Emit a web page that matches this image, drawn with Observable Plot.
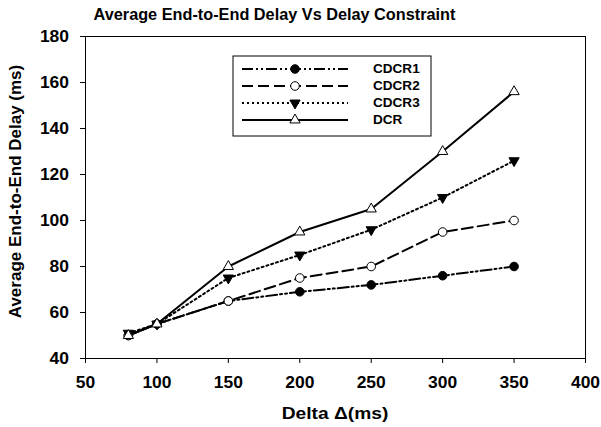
<!DOCTYPE html>
<html>
<head>
<meta charset="utf-8">
<script src="https://cdn.jsdelivr.net/npm/d3@7"></script>
<script src="https://cdn.jsdelivr.net/npm/@observablehq/plot@0.6"></script>
<style>
  html, body { margin: 0; padding: 0; background: #fff; }
  svg text { font-family: "Liberation Sans", Arial, sans-serif; font-weight: bold; }
</style>
</head>
<body>
<div id="chart"></div>
<script>
const deltas = [80, 100, 150, 200, 250, 300, 350];
const cdcr1 = [50, 55, 65, 69, 72, 76, 80];
const cdcr2 = [50, 55, 65, 75, 80, 95, 100];
const cdcr3 = [51, 55, 75, 85, 96, 110, 126];
const dcr   = [50, 55, 80, 95, 105, 130, 156];
const seriesNames = ["CDCR1", "CDCR2", "CDCR3", "DCR"];
const xTicks = [50, 100, 150, 200, 250, 300, 350, 400];
const yTicks = [40, 60, 80, 100, 120, 140, 160, 180];
const title = "Average End-to-End Delay Vs Delay Constraint";
const xLabel = "Delta \u0394(ms)";
const yLabel = "Average End-to-End Delay (ms)";

const values = [cdcr1, cdcr2, cdcr3, dcr];
const rows = [];
seriesNames.forEach((s, i) => deltas.forEach((d, j) => rows.push({series: s, delta: d, delay: values[i][j]})));

const triDown = {
  draw(ctx, size) {
    const s = Math.sqrt(size / (Math.sqrt(3) / 4));
    const h = s * Math.sqrt(3) / 2;
    ctx.moveTo(-s / 2, -h / 3);
    ctx.lineTo(s / 2, -h / 3);
    ctx.lineTo(0, 2 * h / 3);
    ctx.closePath();
  }
};
const triUp = {
  draw(ctx, size) {
    const s = Math.sqrt(size / (Math.sqrt(3) / 4));
    const h = s * Math.sqrt(3) / 2;
    ctx.moveTo(-s / 2, h / 3);
    ctx.lineTo(s / 2, h / 3);
    ctx.lineTo(0, -2 * h / 3);
    ctx.closePath();
  }
};
const styles = {
  CDCR1: {dash: "11,3,2,3,2,3", symbol: d3.symbolCircle, fill: "black", r: 4.3},
  CDCR2: {dash: "11,5", symbol: d3.symbolCircle, fill: "white", r: 4.3},
  CDCR3: {dash: "2,3", symbol: triDown, fill: "black", r: 3.8},
  DCR:   {dash: null, symbol: triUp, fill: "white", r: 3.8}
};

const marks = [
  Plot.frame({stroke: "black", strokeWidth: 1}),
  Plot.axisX({ticks: xTicks, tickSize: 5, tickPadding: 13, fontSize: 16, label: null}),
  Plot.axisY({ticks: yTicks, tickSize: 5, tickPadding: 11.5, fontSize: 16, label: null}),
];
for (const s of seriesNames) {
  const st = styles[s];
  const d = rows.filter(r => r.series === s);
  marks.push(Plot.line(d, {x: "delta", y: "delay", stroke: "black", strokeWidth: 2, strokeDasharray: st.dash || undefined}));
}
for (const s of seriesNames) {
  const st = styles[s];
  const d = rows.filter(r => r.series === s);
  marks.push(Plot.dot(d, {x: "delta", y: "delay", symbol: () => st.symbol, r: st.r, fill: st.fill, stroke: "black", strokeWidth: 1}));
}
const common = {text: d => d, fontWeight: "bold", fill: "black", textAnchor: "middle", lineAnchor: "middle"};
marks.push(Plot.text([title], {...common, frameAnchor: "top", dy: -21.5, dx: -61, fontSize: 16, className: "t-title"}));
marks.push(Plot.text([xLabel], {...common, frameAnchor: "bottom", dy: 55, dx: -0.5, fontSize: 16, className: "t-xlabel"}));
marks.push(Plot.text([yLabel], {...common, frameAnchor: "left", rotate: -90, dx: -70, dy: -6, fontSize: 17, className: "t-ylabel"}));

const chart = Plot.plot({
  width: 601, height: 427,
  marginLeft: 85, marginRight: 16, marginTop: 36, marginBottom: 69,
  style: {background: "white", color: "black", fontFamily: "'Liberation Sans', Arial, sans-serif", fontWeight: "bold"},
  x: {domain: [50, 400]},
  y: {domain: [40, 180]},
  symbol: {type: "identity"},
  marks
});
document.getElementById("chart").appendChild(chart);

const svg = d3.select(chart);
// horizontal stretch of texts to match the reference's wide bold face
function stretch(sel, factor) {
  sel.each(function () {
    const len = this.getComputedTextLength();
    this.setAttribute("textLength", (len * factor).toFixed(1));
    this.setAttribute("lengthAdjust", "spacingAndGlyphs");
  });
}
stretch(svg.selectAll('g[aria-label="x-axis tick label"] text, g[aria-label="y-axis tick label"] text'), 1.09);
stretch(svg.selectAll(".t-title text"), 362 / 356);
stretch(svg.selectAll(".t-xlabel text"), 1.2);

// Legend box
const lg = svg.append("g").attr("class", "legend");
const box = {x: 233, y: 56, w: 198, h: 80};
lg.append("rect").attr("x", box.x).attr("y", box.y).attr("width", box.w).attr("height", box.h)
  .attr("fill", "white").attr("stroke", "black").attr("stroke-width", 1);
seriesNames.forEach((s, i) => {
  const st = styles[s];
  const y = box.y + 13 + i * 17;
  lg.append("line").attr("x1", box.x + 9).attr("x2", box.x + 115).attr("y1", y).attr("y2", y)
    .attr("stroke", "black").attr("stroke-width", 2).attr("stroke-dasharray", st.dash);
  lg.append("path").attr("d", d3.symbol(st.symbol, Math.PI * st.r * st.r)())
    .attr("transform", `translate(${box.x + 62},${y})`)
    .attr("fill", st.fill).attr("stroke", "black").attr("stroke-width", 1);
  const t = lg.append("text").attr("x", box.x + 140).attr("y", y).attr("dy", "0.35em")
    .attr("text-anchor", "start")
    .attr("font-size", 12).attr("fill", "black").text(s);
  stretch(t, 1.13);
});
</script>
</body>
</html>
